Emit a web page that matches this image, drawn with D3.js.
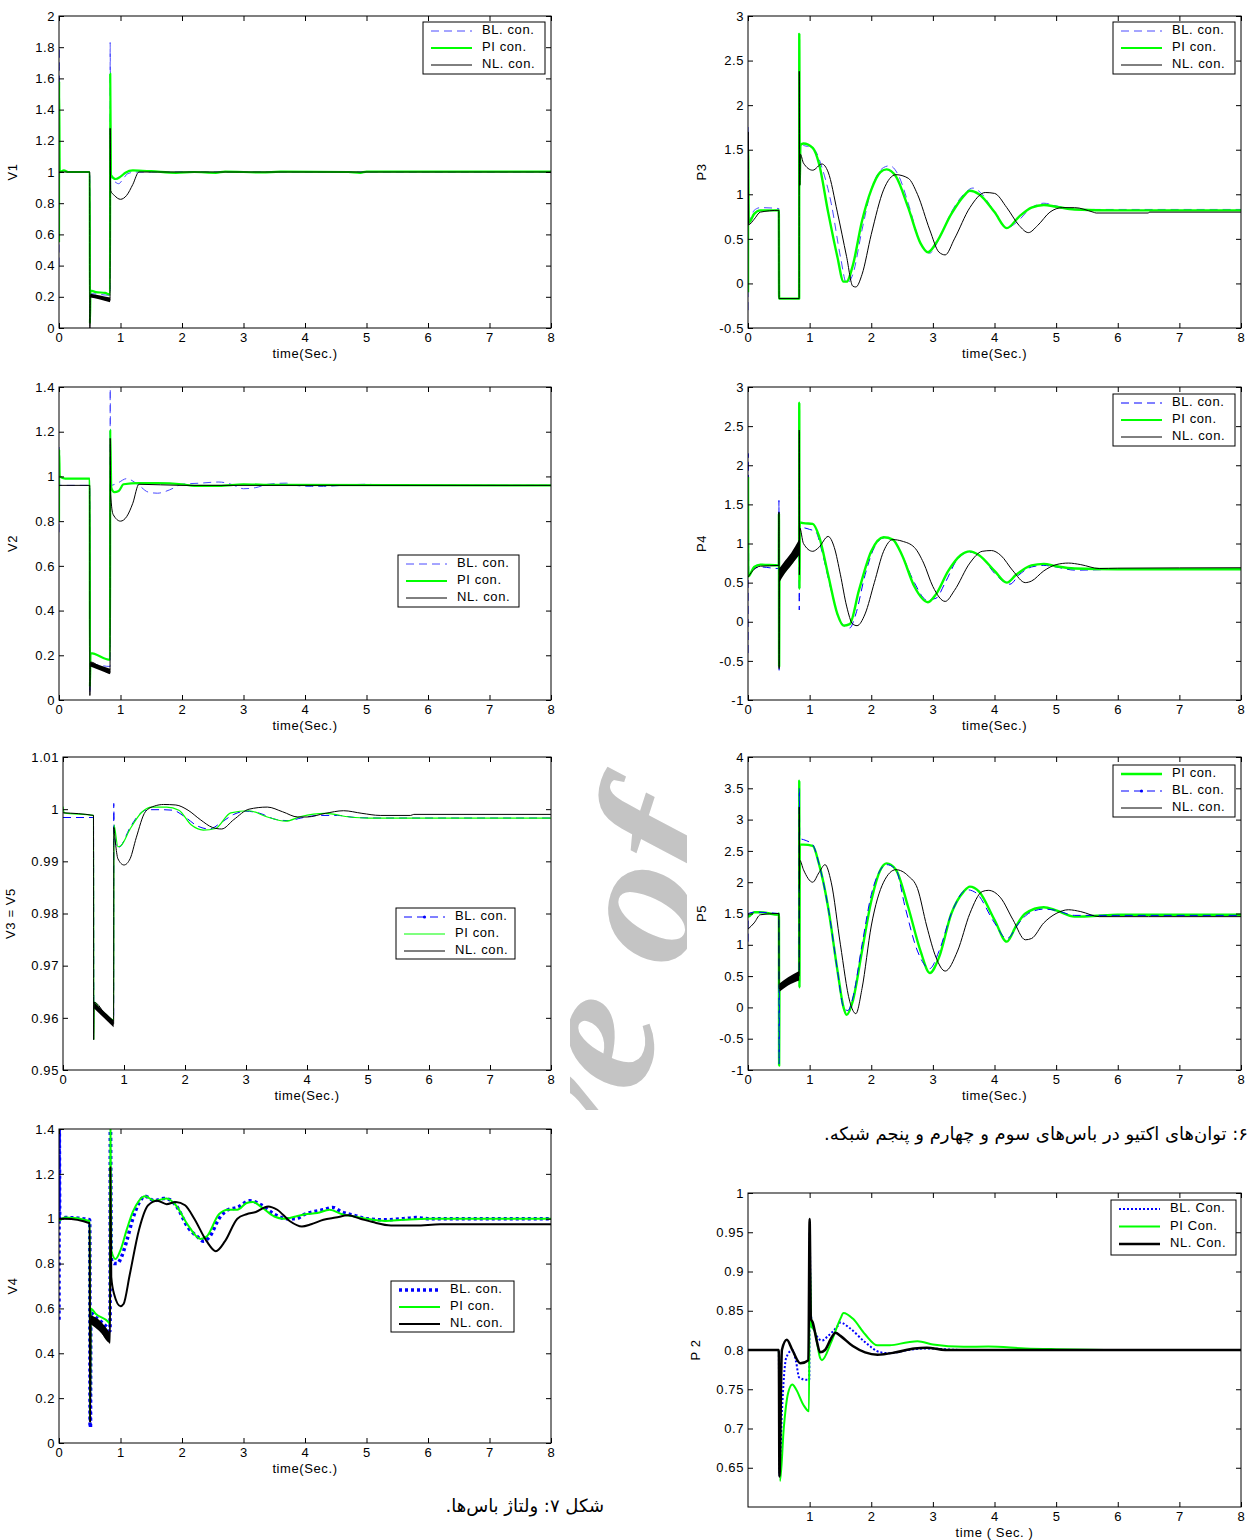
<!DOCTYPE html>
<html>
<head>
<meta charset="utf-8">
<script src="https://cdn.jsdelivr.net/npm/d3@7"></script>
<style>
  body { margin: 0; background: #fff; }
  svg { display: block; }
</style>
</head>
<body>
<svg id="fig" width="1251" height="1540"></svg>
<script>
// ---------- shared ticks ----------
const timeTicks = [0, 1, 2, 3, 4, 5, 6, 7, 8];
const p2TimeTicks = [1, 2, 3, 4, 5, 6, 7, 8];
const v1Ticks = [0, 0.2, 0.4, 0.6, 0.8, 1, 1.2, 1.4, 1.6, 1.8, 2];
const v2Ticks = [0, 0.2, 0.4, 0.6, 0.8, 1, 1.2, 1.4];
const v3Ticks = [0.95, 0.96, 0.97, 0.98, 0.99, 1, 1.01];
const v4Ticks = [0, 0.2, 0.4, 0.6, 0.8, 1, 1.2, 1.4];
const p3Ticks = [-0.5, 0, 0.5, 1, 1.5, 2, 2.5, 3];
const p4Ticks = [-1, -0.5, 0, 0.5, 1, 1.5, 2, 2.5, 3];
const p5Ticks = [-1, -0.5, 0, 0.5, 1, 1.5, 2, 2.5, 3, 3.5, 4];
const p2Ticks = [0.65, 0.7, 0.75, 0.8, 0.85, 0.9, 0.95, 1];

// ---------- bus voltage V1: [time, value] ----------
const v1BL = [[0,0.4],[0.002,1.8],[0.01,1.0],[0.5,1.0],[0.503,0.05],[0.51,0.22],[0.83,0.21],[0.832,1.83],[0.84,0.96],[0.9,0.94],[0.97,0.925],[1.05,0.96],[1.12,0.99],[1.25,1.0],[8,1.0]];
const v1PI = [[0,0.55],[0.002,1.58],[0.012,1.0],[0.08,1.01],[0.15,1.0],[0.5,1.0],[0.503,0.03],[0.512,0.24],[0.6,0.23],[0.75,0.225],[0.83,0.215],[0.833,1.63],[0.845,0.98],[0.92,0.955],[1.0,0.97],[1.08,0.995],[1.2,1.01],[1.5,1.005],[1.9,0.995],[2.2,1.0],[2.55,0.995],[2.7,1.003],[3.3,0.997],[3.6,1.002],[4.7,1.0],[4.9,0.995],[5.0,1.003],[8,1.003]];
const v1NL = [[0,1.0],[0.5,1.0],[0.502,0.0],[0.51,0.21],[0.83,0.175],[0.832,1.28],[0.84,0.88],[0.9,0.85],[1.0,0.825],[1.1,0.85],[1.2,0.92],[1.3,1.0],[1.5,1.0],[8,1.0]];
const v1NLband = [[0.51,0.195,0.22],[0.65,0.185,0.21],[0.83,0.165,0.195]];

// ---------- bus voltage V2 ----------
const v2BL = [[0,0.75],[0.002,1.13],[0.012,0.96],[0.5,0.96],[0.503,0.03],[0.51,0.16],[0.83,0.15],[0.832,1.45],[0.84,0.96],[0.95,0.97],[1.1,0.99],[1.3,0.96],[1.45,0.93],[1.6,0.925],[1.8,0.94],[2.0,0.965],[2.3,0.97],[2.6,0.975],[2.8,0.965],[3.0,0.945],[3.2,0.95],[3.4,0.965],[3.7,0.97],[3.85,0.96],[4.1,0.955],[4.3,0.955],[4.6,0.96],[5.0,0.965],[5.3,0.96],[8,0.96]];
const v2PI = [[0,0.8],[0.002,1.12],[0.012,1.0],[0.1,0.99],[0.5,0.99],[0.503,0.06],[0.512,0.21],[0.83,0.18],[0.833,1.21],[0.85,0.95],[0.9,0.93],[0.97,0.935],[1.05,0.965],[1.3,0.97],[1.6,0.97],[2.0,0.965],[2.2,0.958],[2.6,0.958],[3.0,0.965],[3.5,0.962],[8,0.96]];
const v2NL = [[0,0.96],[0.5,0.96],[0.502,0.02],[0.51,0.17],[0.83,0.12],[0.832,1.17],[0.84,0.92],[0.88,0.83],[1.0,0.80],[1.1,0.82],[1.2,0.88],[1.3,0.965],[2,0.96],[8,0.96]];
const v2NLband = [[0.51,0.15,0.17],[0.83,0.115,0.14]];

// ---------- bus voltage V3 = V5 ----------
const v3BL = [[0,0.9984],[0.5,0.9984],[0.505,0.963],[0.6,0.9617],[0.83,0.9595],[0.832,1.0011],[0.84,0.995],[0.9,0.9925],[0.95,0.993],[1.1,0.9965],[1.3,0.9995],[1.4,0.9999],[1.6,0.9999],[1.8,0.9998],[2.0,0.9985],[2.2,0.9968],[2.4,0.9962],[2.6,0.9975],[2.8,0.999],[3.0,0.9996],[3.2,0.9993],[3.5,0.998],[3.7,0.9978],[3.9,0.9983],[4.2,0.9988],[4.5,0.9988],[4.8,0.9984],[5.2,0.9983],[8,0.9983]];
const v3PI = [[0,1.0005],[0.02,0.9993],[0.5,0.9988],[0.505,0.9558],[0.512,0.963],[0.6,0.9617],[0.7,0.9607],[0.83,0.9596],[0.835,0.997],[0.9,0.9928],[0.95,0.993],[1.1,0.9962],[1.3,0.9995],[1.45,1.0004],[1.7,1.0004],[1.9,0.9998],[2.1,0.997],[2.3,0.996],[2.5,0.9963],[2.75,0.9993],[3.05,0.9997],[3.35,0.9985],[3.65,0.9977],[3.9,0.9986],[4.3,0.9992],[4.7,0.9985],[5.0,0.9983],[8,0.9983]];
const v3NL = [[0,0.9993],[0.5,0.9988],[0.503,0.9558],[0.507,0.963],[0.83,0.9588],[0.833,0.9965],[0.86,0.9935],[0.9,0.9905],[1.0,0.9893],[1.1,0.9905],[1.2,0.9945],[1.35,0.9995],[1.5,1.0006],[1.65,1.0009],[1.85,1.0008],[2.05,0.9998],[2.25,0.998],[2.45,0.9965],[2.6,0.9962],[2.8,0.998],[3.05,1.0],[3.35,1.0004],[3.6,0.9995],[3.85,0.9985],[4.0,0.9985],[4.3,0.9992],[4.6,0.9997],[4.9,0.9992],[5.2,0.9988],[5.7,0.9988],[5.75,0.999],[8,0.999]];
const v3NLband = [[0.51,0.9618,0.963],[0.83,0.9582,0.9595]];

// ---------- bus voltage V4 ----------
const v4BL = [[0,0.55],[0.003,1.5],[0.012,1.0],[0.1,1.005],[0.5,0.995],[0.505,0.07],[0.512,0.07],[0.517,0.58],[0.6,0.56],[0.8,0.51],[0.83,0.5],[0.835,1.5],[0.85,0.82],[0.9,0.8],[0.95,0.8],[1.0,0.82],[1.1,0.9],[1.2,1.0],[1.3,1.07],[1.4,1.1],[1.55,1.08],[1.7,1.09],[1.8,1.085],[1.9,1.06],[2.1,0.96],[2.25,0.92],[2.35,0.9],[2.45,0.92],[2.6,1.0],[2.75,1.04],[2.9,1.05],[3.1,1.08],[3.3,1.06],[3.5,1.02],[3.7,1.0],[3.85,1.0],[4.0,1.02],[4.3,1.04],[4.45,1.05],[4.6,1.03],[4.8,1.015],[5.0,1.0],[5.3,0.995],[5.6,1.0],[5.8,1.005],[6,1.0],[8,1.0]];
const v4PI = [[0,0.99],[0.1,1.005],[0.5,0.99],[0.505,0.1],[0.515,0.6],[0.6,0.575],[0.8,0.54],[0.83,0.53],[0.835,1.5],[0.85,0.86],[0.92,0.82],[1.0,0.86],[1.1,0.95],[1.2,1.03],[1.3,1.08],[1.4,1.1],[1.55,1.08],[1.75,1.09],[1.9,1.06],[2.1,0.97],[2.3,0.91],[2.4,0.92],[2.6,1.02],[2.75,1.04],[2.9,1.04],[3.05,1.07],[3.15,1.075],[3.3,1.05],[3.5,1.01],[3.65,1.0],[3.85,1.01],[4.0,1.02],[4.2,1.025],[4.4,1.04],[4.6,1.02],[4.8,1.01],[5.0,1.0],[5.3,0.99],[5.6,0.995],[6,1.0],[8,1.0]];
const v4NL = [[0,1.0],[0.1,1.0],[0.5,0.98],[0.505,0.09],[0.515,0.55],[0.6,0.54],[0.83,0.45],[0.835,1.23],[0.85,0.74],[0.9,0.66],[1.0,0.61],[1.05,0.62],[1.15,0.75],[1.3,0.95],[1.45,1.06],[1.6,1.08],[1.75,1.065],[1.9,1.075],[2.05,1.06],[2.2,1.0],[2.4,0.9],[2.55,0.855],[2.7,0.9],[2.9,1.0],[3.05,1.02],[3.2,1.03],[3.4,1.055],[3.55,1.04],[3.75,0.99],[3.95,0.965],[4.1,0.975],[4.3,0.995],[4.5,1.005],[4.7,1.015],[4.9,1.0],[5.1,0.985],[5.4,0.97],[5.8,0.97],[6.2,0.975],[6.6,0.975],[8,0.975]];
const v4NLband = [[0.515,0.53,0.57],[0.65,0.5,0.55],[0.83,0.44,0.49]];

// ---------- active power P3 ----------
const p3BL = [[0,-0.3],[0.003,1.75],[0.012,0.7],[0.1,0.82],[0.2,0.85],[0.5,0.84],[0.505,-0.17],[0.83,-0.17],[0.835,1.6],[0.9,1.55],[1.0,1.53],[1.1,1.48],[1.2,1.3],[1.35,0.9],[1.5,0.3],[1.6,0.0],[1.7,0.1],[1.85,0.6],[2.0,1.05],[2.2,1.3],[2.3,1.32],[2.45,1.2],[2.6,0.9],[2.8,0.45],[2.95,0.34],[3.1,0.5],[3.3,0.8],[3.5,1.0],[3.65,1.07],[3.8,1.0],[4.0,0.8],[4.2,0.62],[4.35,0.68],[4.6,0.85],[4.8,0.9],[5.0,0.87],[5.3,0.83],[6,0.83],[8,0.83]];
const p3PI = [[0,-0.1],[0.002,1.5],[0.012,0.68],[0.1,0.78],[0.2,0.82],[0.5,0.82],[0.505,-0.17],[0.83,-0.17],[0.832,2.8],[0.84,1.1],[0.85,1.55],[0.9,1.57],[1.05,1.52],[1.15,1.35],[1.3,0.8],[1.45,0.3],[1.55,0.02],[1.6,0.02],[1.7,0.2],[1.85,0.7],[2.0,1.05],[2.15,1.25],[2.25,1.28],[2.4,1.2],[2.6,0.85],[2.8,0.45],[2.92,0.35],[3.05,0.45],[3.3,0.78],[3.5,0.98],[3.6,1.04],[3.75,1.0],[4.0,0.8],[4.2,0.62],[4.4,0.75],[4.6,0.85],[4.8,0.88],[5.0,0.86],[5.3,0.83],[6,0.82],[8,0.82]];
const p3NL = [[0,0.65],[0.002,1.7],[0.012,0.66],[0.1,0.72],[0.2,0.8],[0.5,0.82],[0.505,-0.17],[0.83,-0.17],[0.832,2.38],[0.84,1.1],[0.85,1.45],[0.9,1.35],[1.05,1.27],[1.2,1.34],[1.3,1.25],[1.45,0.8],[1.6,0.3],[1.7,-0.03],[1.75,-0.04],[1.85,0.1],[2.0,0.55],[2.2,1.05],[2.4,1.22],[2.6,1.18],[2.75,1.0],[2.95,0.6],[3.1,0.35],[3.2,0.32],[3.35,0.5],[3.6,0.85],[3.85,1.02],[4.0,1.01],[4.2,0.85],[4.4,0.65],[4.55,0.57],[4.7,0.65],[4.9,0.8],[5.1,0.85],[5.3,0.85],[5.6,0.8],[5.65,0.79],[6.5,0.79],[6.51,0.8],[8,0.8]];

// ---------- active power P4 ----------
const p4BL = [[0,-0.4],[0.003,2.15],[0.012,0.6],[0.1,0.68],[0.2,0.7],[0.5,0.68],[0.502,1.55],[0.505,-0.62],[0.51,0.55],[0.6,0.65],[0.83,0.95],[0.832,0.15],[0.835,1.2],[0.9,1.2],[1.0,1.18],[1.1,1.15],[1.2,0.9],[1.35,0.4],[1.5,0.0],[1.65,-0.08],[1.75,0.1],[1.9,0.6],[2.05,0.95],[2.2,1.07],[2.35,1.05],[2.5,0.85],[2.7,0.5],[2.9,0.28],[3.05,0.3],[3.2,0.5],[3.4,0.8],[3.6,0.89],[3.8,0.82],[4.0,0.62],[4.25,0.48],[4.4,0.6],[4.6,0.7],[4.8,0.72],[5.0,0.7],[5.3,0.66],[6,0.67],[8,0.68]];
const p4PI = [[0,1.85],[0.005,0.58],[0.1,0.7],[0.2,0.73],[0.5,0.72],[0.502,1.38],[0.505,-0.57],[0.51,0.55],[0.6,0.65],[0.83,0.95],[0.832,2.8],[0.835,0.42],[0.84,1.27],[0.9,1.26],[1.05,1.25],[1.15,1.1],[1.3,0.6],[1.45,0.1],[1.55,-0.05],[1.65,-0.03],[1.8,0.4],[2.0,0.9],[2.2,1.08],[2.35,1.05],[2.5,0.85],[2.7,0.45],[2.92,0.25],[3.05,0.35],[3.25,0.65],[3.45,0.85],[3.6,0.9],[3.75,0.85],[4.0,0.65],[4.2,0.5],[4.35,0.6],[4.6,0.72],[4.8,0.74],[5.0,0.71],[5.3,0.68],[6,0.67],[8,0.67]];
const p4NL = [[0,0.57],[0.1,0.67],[0.2,0.71],[0.5,0.72],[0.502,1.4],[0.505,-0.6],[0.51,0.55],[0.6,0.68],[0.83,0.95],[0.832,2.45],[0.835,0.6],[0.84,1.2],[0.9,1.0],[1.05,0.9],[1.15,0.95],[1.3,1.09],[1.4,0.95],[1.5,0.6],[1.6,0.2],[1.7,-0.03],[1.77,-0.05],[1.9,0.1],[2.05,0.5],[2.2,0.9],[2.35,1.05],[2.5,1.03],[2.7,0.95],[2.85,0.75],[3.0,0.45],[3.2,0.26],[3.35,0.4],[3.6,0.75],[3.8,0.9],[3.95,0.91],[4.1,0.85],[4.3,0.65],[4.5,0.5],[4.6,0.52],[4.8,0.65],[5.0,0.73],[5.2,0.75],[5.4,0.73],[5.7,0.68],[6,0.685],[8,0.69]];
const p4NLband = [[0.505,0.5,0.68],[0.6,0.62,0.78],[0.7,0.72,0.88],[0.83,0.85,1.05]];

// ---------- active power P5 ----------
const p5PI = [[0,1.5],[0.005,1.45],[0.1,1.52],[0.2,1.52],[0.5,1.48],[0.502,1.5],[0.505,-0.93],[0.51,0.3],[0.6,0.4],[0.83,0.55],[0.832,3.62],[0.835,0.32],[0.84,2.6],[0.9,2.6],[1.05,2.58],[1.15,2.3],[1.3,1.6],[1.45,0.6],[1.55,0.0],[1.6,-0.12],[1.7,0.1],[1.85,0.9],[2.0,1.7],[2.15,2.2],[2.25,2.3],[2.4,2.2],[2.6,1.6],[2.8,0.9],[2.95,0.55],[3.1,0.8],[3.3,1.5],[3.5,1.85],[3.6,1.93],[3.75,1.85],[4.0,1.4],[4.2,1.05],[4.35,1.3],[4.5,1.5],[4.8,1.6],[5.0,1.55],[5.3,1.45],[5.6,1.46],[6,1.48],[8,1.48]];
const p5BL = [[0,1.05],[0.003,1.5],[0.1,1.52],[0.5,1.5],[0.505,-0.9],[0.51,0.3],[0.83,0.58],[0.832,3.5],[0.84,2.7],[0.9,2.68],[1.05,2.6],[1.15,2.3],[1.3,1.6],[1.45,0.6],[1.55,0.0],[1.62,-0.05],[1.7,0.15],[1.85,1.0],[2.0,1.8],[2.15,2.2],[2.25,2.28],[2.4,2.2],[2.55,1.6],[2.75,0.9],[2.95,0.62],[3.1,0.9],[3.3,1.5],[3.55,1.88],[3.7,1.83],[4.0,1.35],[4.2,1.1],[4.4,1.35],[4.55,1.5],[4.8,1.57],[5.0,1.55],[5.3,1.47],[6,1.47],[8,1.47]];
const p5NL = [[0,1.25],[0.1,1.35],[0.2,1.48],[0.5,1.5],[0.505,0.3],[0.6,0.4],[0.83,0.5],[0.832,3.2],[0.835,1.9],[0.84,2.35],[0.9,2.2],[1.05,2.0],[1.15,2.15],[1.25,2.28],[1.35,2.0],[1.5,1.0],[1.65,0.1],[1.75,-0.1],[1.85,0.3],[2.0,1.3],[2.2,2.0],[2.4,2.2],[2.6,2.1],[2.75,1.9],[2.9,1.3],[3.05,0.8],[3.2,0.58],[3.4,0.9],[3.6,1.5],[3.8,1.85],[3.9,1.87],[4.1,1.75],[4.3,1.4],[4.5,1.08],[4.6,1.1],[4.8,1.35],[5.0,1.5],[5.2,1.56],[5.4,1.53],[5.7,1.45],[6.5,1.45],[8,1.45]];
const p5NLband = [[0.51,0.25,0.38],[0.65,0.35,0.48],[0.83,0.43,0.58]];

// ---------- active power P2 ----------
const p2BL = [[0,0.8],[0.5,0.8],[0.51,0.64],[0.55,0.72],[0.62,0.79],[0.72,0.8],[0.78,0.785],[0.83,0.765],[0.95,0.762],[0.995,0.762],[1.0,0.95],[1.02,0.845],[1.1,0.82],[1.2,0.812],[1.3,0.818],[1.45,0.83],[1.5,0.835],[1.65,0.828],[1.9,0.81],[2.15,0.797],[2.3,0.796],[2.6,0.8],[2.9,0.802],[3.5,0.8],[8,0.8]];
const p2PI = [[0,0.8],[0.5,0.8],[0.52,0.633],[0.58,0.7],[0.65,0.745],[0.72,0.756],[0.78,0.75],[0.9,0.73],[0.99,0.722],[1.0,0.92],[1.03,0.83],[1.08,0.825],[1.17,0.79],[1.2,0.787],[1.35,0.81],[1.5,0.84],[1.55,0.847],[1.7,0.84],[1.9,0.82],[2.1,0.806],[2.3,0.806],[2.6,0.81],[2.75,0.811],[3.0,0.807],[3.5,0.804],[3.9,0.8045],[4.5,0.802],[5.0,0.801],[6,0.8],[8,0.8]];
const p2NL = [[0,0.8],[0.5,0.8],[0.51,0.639],[0.55,0.8],[0.63,0.813],[0.72,0.8],[0.85,0.783],[0.98,0.787],[1.0,0.967],[1.02,0.84],[1.05,0.835],[1.12,0.81],[1.17,0.797],[1.25,0.8],[1.35,0.815],[1.42,0.822],[1.5,0.818],[1.7,0.805],[1.9,0.797],[2.1,0.794],[2.4,0.797],[2.7,0.802],[2.9,0.803],[3.2,0.8],[8,0.8]];

// ---------- drawing ----------
const svg = d3.select('#fig');
const FONT = '"Liberation Sans", Arial, Helvetica, sans-serif';
const GREEN = '#00ff00';

// faint watermark lettering in the gap between the two columns
const wmClip = svg.append('clipPath').attr('id', 'wm-clip');
wmClip.append('rect').attr('x', 570).attr('y', 745).attr('width', 117).attr('height', 365);
svg.append('g').attr('clip-path', 'url(#wm-clip)')
  .append('text')
  .attr('transform', 'translate(658,1038) rotate(-72)')
  .attr('text-anchor', 'middle')
  .attr('font-family', '"Liberation Serif", "DejaVu Serif", serif')
  .attr('font-style', 'italic')
  .attr('font-weight', 'bold')
  .attr('font-size', 190)
  .attr('fill', '#c4c4c4')
  .text('Archive of SID');

const fmt = d => String(+d.toFixed(3));

function drawPanel(p) {
  const x = d3.scaleLinear().domain([0, 8]).range([p.l, p.r]);
  const y = d3.scaleLinear().domain(p.yDomain).range([p.b, p.t]);
  const g = svg.append('g');

  g.append('rect').attr('x', p.l).attr('y', p.t)
    .attr('width', p.r - p.l).attr('height', p.b - p.t).attr('fill', '#fff');

  const cid = 'clip-' + p.id;
  g.append('clipPath').attr('id', cid).append('rect')
    .attr('x', p.l).attr('y', p.t).attr('width', p.r - p.l).attr('height', p.b - p.t);
  const plot = g.append('g').attr('clip-path', `url(#${cid})`);

  const line = d3.line().x(d => x(d[0])).y(d => y(d[1])).curve(d3.curveMonotoneX);
  const area = d3.area().x(d => x(d[0])).y0(d => y(d[1])).y1(d => y(d[2])).curve(d3.curveMonotoneX);

  p.series.forEach(s => {
    if (s.band) {
      plot.append('path').datum(s.band).attr('d', area).attr('fill', s.color);
    }
    plot.append('path').datum(s.data).attr('d', line)
      .attr('fill', 'none').attr('stroke', s.color)
      .attr('stroke-width', s.width)
      .attr('stroke-dasharray', s.dash || null)
      .attr('stroke-linejoin', 'round');
  });

  const xt = p.xTicks || timeTicks;
  const axes = [
    [d3.axisBottom(x).tickValues(xt).tickFormat(fmt).tickPadding(5), `translate(0,${p.b})`],
    [d3.axisTop(x).tickValues(xt).tickFormat(''), `translate(0,${p.t})`],
    [d3.axisLeft(y).tickValues(p.yTicks).tickFormat(fmt).tickPadding(4), `translate(${p.l},0)`],
    [d3.axisRight(y).tickValues(p.yTicks).tickFormat(''), `translate(${p.r},0)`]
  ];
  axes.forEach(([ax, tr]) => {
    const a = g.append('g').attr('transform', tr).call(ax.tickSizeInner(-5).tickSizeOuter(0));
    a.select('.domain').remove();
    a.selectAll('line').attr('stroke', '#000');
    a.selectAll('text').attr('fill', '#000').attr('font-family', FONT)
      .attr('font-size', 13).attr('letter-spacing', 0.6);
  });

  g.append('rect').attr('x', p.l).attr('y', p.t)
    .attr('width', p.r - p.l).attr('height', p.b - p.t)
    .attr('fill', 'none').attr('stroke', '#000').attr('stroke-width', 1);

  g.append('text')
    .attr('transform', `translate(${p.l - p.ylabOff},${(p.t + p.b) / 2}) rotate(-90)`)
    .attr('text-anchor', 'middle').attr('dominant-baseline', 'middle')
    .attr('font-family', FONT).attr('font-size', 13).attr('letter-spacing', 0.6)
    .text(p.ylabel);

  g.append('text')
    .attr('x', (p.l + p.r) / 2).attr('y', p.b + 30)
    .attr('text-anchor', 'middle')
    .attr('font-family', FONT).attr('font-size', 13).attr('letter-spacing', 0.6)
    .text(p.xlabel || 'time(Sec.)');

  // legend box
  const lg = p.legend;
  const lgG = g.append('g');
  lgG.append('rect').attr('x', lg.x).attr('y', lg.y).attr('width', lg.w).attr('height', lg.h)
    .attr('fill', '#fff').attr('stroke', '#000').attr('stroke-width', 1);
  lg.items.forEach((it, i) => {
    const yy = lg.y + 9 + i * lg.step;
    lgG.append('line').attr('x1', lg.x + 8).attr('x2', lg.x + 49)
      .attr('y1', yy).attr('y2', yy)
      .attr('stroke', it.color).attr('stroke-width', it.width)
      .attr('stroke-dasharray', it.dash || null);
    if (it.marker) {
      lgG.append('circle').attr('cx', lg.x + 28.5).attr('cy', yy).attr('r', 1.6).attr('fill', it.color);
    }
    lgG.append('text').attr('x', lg.x + 59).attr('y', yy)
      .attr('dominant-baseline', 'middle')
      .attr('font-family', FONT).attr('font-size', 13).attr('letter-spacing', 0.6)
      .text(it.label);
  });
}

const BLUE_L = '#4a4aff', BLUE = '#0000ff';

const std = (blColor) => [
  { label: 'BL. con.', color: blColor, width: 1, dash: '8,5' },
  { label: 'PI con.', color: GREEN, width: 2.2 },
  { label: 'NL. con.', color: '#000', width: 1 }
];

drawPanel({
  id: 'v1', l: 59, r: 551, t: 16, b: 328, yDomain: [0, 2], yTicks: v1Ticks, ylabel: 'V1', ylabOff: 45,
  series: [
    { data: v1BL, color: BLUE_L, width: 1, dash: '8,5' },
    { data: v1PI, color: GREEN, width: 2.2 },
    { data: v1NL, color: '#000', width: 1, band: v1NLband }
  ],
  legend: { x: 423, y: 22, w: 122, h: 52, step: 17, items: std(BLUE_L) }
});

drawPanel({
  id: 'p3', l: 748, r: 1241, t: 16, b: 328, yDomain: [-0.5, 3], yTicks: p3Ticks, ylabel: 'P3', ylabOff: 45,
  series: [
    { data: p3BL, color: BLUE_L, width: 1, dash: '8,5' },
    { data: p3PI, color: GREEN, width: 2.4 },
    { data: p3NL, color: '#000', width: 1 }
  ],
  legend: { x: 1113, y: 22, w: 122, h: 52, step: 17, items: std(BLUE_L) }
});

drawPanel({
  id: 'v2', l: 59, r: 551, t: 387, b: 700, yDomain: [0, 1.4], yTicks: v2Ticks, ylabel: 'V2', ylabOff: 45,
  series: [
    { data: v2BL, color: BLUE_L, width: 1, dash: '8,5' },
    { data: v2PI, color: GREEN, width: 2.2 },
    { data: v2NL, color: '#000', width: 1, band: v2NLband }
  ],
  legend: { x: 398, y: 555, w: 121, h: 52, step: 17, items: std(BLUE_L) }
});

drawPanel({
  id: 'p4', l: 748, r: 1241, t: 387, b: 700, yDomain: [-1, 3], yTicks: p4Ticks, ylabel: 'P4', ylabOff: 45,
  series: [
    { data: p4BL, color: BLUE, width: 1, dash: '8,5' },
    { data: p4PI, color: GREEN, width: 2.4 },
    { data: p4NL, color: '#000', width: 1, band: p4NLband }
  ],
  legend: { x: 1113, y: 394, w: 122, h: 52, step: 17, items: std(BLUE) }
});

drawPanel({
  id: 'v3', l: 63, r: 551, t: 757, b: 1070, yDomain: [0.95, 1.01], yTicks: v3Ticks, ylabel: 'V3 = V5', ylabOff: 51,
  series: [
    { data: v3BL, color: BLUE, width: 1, dash: '8,5' },
    { data: v3PI, color: GREEN, width: 1.2 },
    { data: v3NL, color: '#000', width: 1, band: v3NLband }
  ],
  legend: { x: 396, y: 908, w: 119, h: 51, step: 17, items: [
    { label: 'BL. con.', color: BLUE, width: 1, dash: '8,5', marker: true },
    { label: 'PI con.', color: GREEN, width: 1.2 },
    { label: 'NL. con.', color: '#000', width: 1 }
  ] }
});

drawPanel({
  id: 'p5', l: 748, r: 1241, t: 757, b: 1070, yDomain: [-1, 4], yTicks: p5Ticks, ylabel: 'P5', ylabOff: 45,
  series: [
    { data: p5PI, color: GREEN, width: 2.4 },
    { data: p5BL, color: BLUE, width: 1, dash: '8,5' },
    { data: p5NL, color: '#000', width: 1, band: p5NLband }
  ],
  legend: { x: 1113, y: 765, w: 122, h: 52, step: 17, items: [
    { label: 'PI con.', color: GREEN, width: 2.4 },
    { label: 'BL. con.', color: BLUE, width: 1, dash: '8,5', marker: true },
    { label: 'NL. con.', color: '#000', width: 1 }
  ] }
});

drawPanel({
  id: 'v4', l: 59, r: 551, t: 1129, b: 1443, yDomain: [0, 1.4], yTicks: v4Ticks, ylabel: 'V4', ylabOff: 45,
  series: [
    { data: v4BL, color: BLUE, width: 3.5, dash: '3,3' },
    { data: v4PI, color: GREEN, width: 2 },
    { data: v4NL, color: '#000', width: 2, band: v4NLband }
  ],
  legend: { x: 391, y: 1281, w: 123, h: 51, step: 17, items: [
    { label: 'BL. con.', color: BLUE, width: 3.5, dash: '3,3' },
    { label: 'PI con.', color: GREEN, width: 2 },
    { label: 'NL. con.', color: '#000', width: 2 }
  ] }
});

drawPanel({
  id: 'p2', l: 748, r: 1241, t: 1193, b: 1507, yDomain: [0.6, 1], yTicks: p2Ticks, xTicks: p2TimeTicks,
  ylabel: 'P 2', ylabOff: 51, xlabel: 'time ( Sec. )',
  series: [
    { data: p2BL, color: BLUE, width: 2, dash: '2,2' },
    { data: p2PI, color: GREEN, width: 2 },
    { data: p2NL, color: '#000', width: 2.5 }
  ],
  legend: { x: 1111, y: 1200, w: 125, h: 55, step: 17.5, items: [
    { label: 'BL. Con.', color: BLUE, width: 2, dash: '2,2' },
    { label: 'PI Con.', color: GREEN, width: 2 },
    { label: 'NL. Con.', color: '#000', width: 2.5 }
  ] }
});

// figure captions
svg.append('text')
  .attr('x', 1248).attr('y', 1140)
  .attr('direction', 'rtl').attr('text-anchor', 'start')
  .attr('font-family', '"DejaVu Sans", sans-serif').attr('font-size', 18)
  .text('۶: توان‌های اکتیو در باس‌های سوم و چهارم و پنجم شبکه.');

svg.append('text')
  .attr('x', 604).attr('y', 1512)
  .attr('direction', 'rtl').attr('text-anchor', 'start')
  .attr('font-family', '"DejaVu Sans", sans-serif').attr('font-size', 18)
  .text('شکل ۷:  ولتاژ باس‌ها.');
</script>
</body>
</html>
